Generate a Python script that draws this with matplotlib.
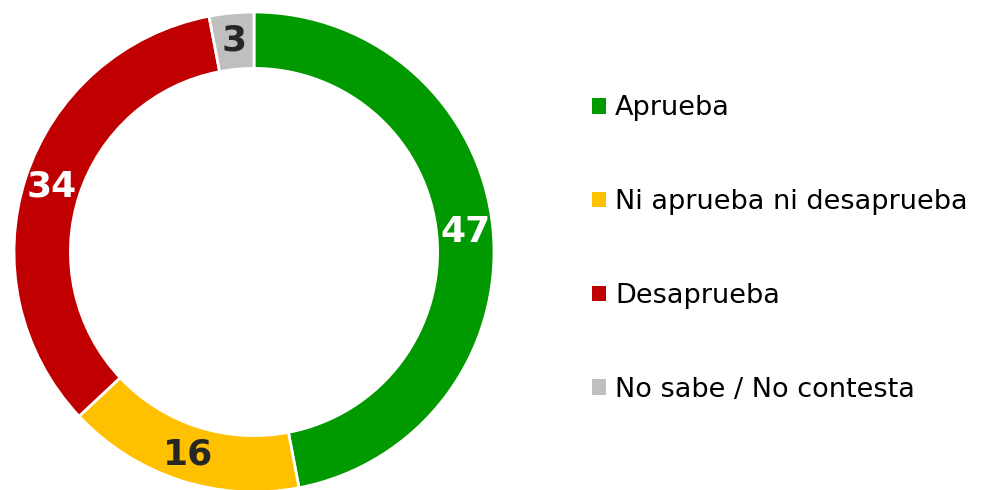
import matplotlib
matplotlib.use("Agg")
from matplotlib import pyplot as plt
from matplotlib.patches import Patch

categories = ["Aprueba", "Ni aprueba ni desaprueba", "Desaprueba", "No sabe / No contesta"]
values = [47, 16, 34, 3]
colors = ["#009900", "#FFC000", "#C00000", "#BFBFBF"]
label_colors = ["white", "#262626", "white", "#262626"]

fig = plt.figure(figsize=(9.83, 4.9), dpi=100)
W, H = 983, 490
cx, cy, r = 254, 490 - 252, 240
ax = fig.add_axes([(cx - r) / W, (cy - r) / H, 2 * r / W, 2 * r / H])

wedges, texts, autotexts = ax.pie(
    values, colors=colors, startangle=90, counterclock=False,
    autopct=lambda p: f"{p:.0f}", pctdistance=0.885, radius=1,
    wedgeprops=dict(width=0.235, edgecolor="white", linewidth=2),
)
for t, c in zip(autotexts, label_colors):
    t.set_color(c)
    t.set_fontsize(26)
    t.set_fontweight("bold")
ax.set_xlim(-1, 1)
ax.set_ylim(-1, 1)
ax.set_aspect("equal")

handles = [Patch(facecolor=c, edgecolor="none") for c in colors]
fig.legend(handles, categories, loc="center left",
           bbox_to_anchor=(592 / W, 1 - 249 / H), frameon=False,
           fontsize=19.5, handlelength=0.5, handleheight=0.5,
           handletextpad=0.35, labelspacing=2.5, borderpad=0, borderaxespad=0)

fig.savefig("out.png", dpi=100)
